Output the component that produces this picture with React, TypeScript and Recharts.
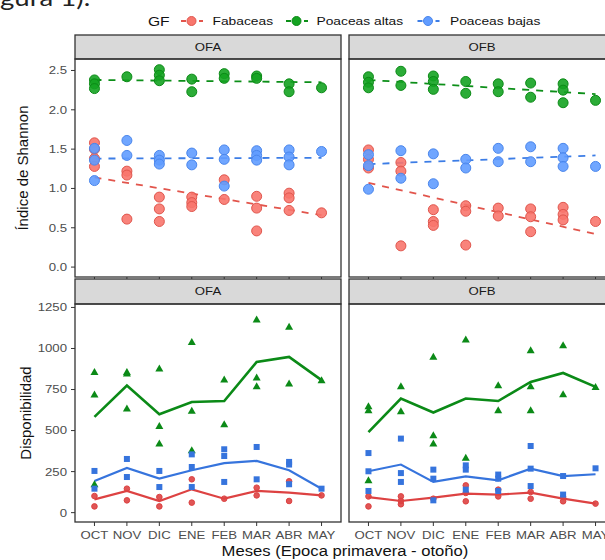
import React from 'react';
import { ComposedChart, Scatter, Line, XAxis, YAxis } from 'recharts';

const MONTHS = ['OCT', 'NOV', 'DIC', 'ENE', 'FEB', 'MAR', 'ABR', 'MAY'];
const MONTH_IDX = MONTHS.map((_, i) => i);
const GROUPS = ['Fabaceas', 'Poaceas altas', 'Poaceas bajas'];
const FACETS = ['OFA', 'OFB'];
const SH_TICKS = [0, 0.5, 1, 1.5, 2, 2.5];
const DISP_TICKS = [0, 250, 500, 750, 1000, 1250];

// Índice de Shannon: valores por mes (OCT..MAY)
const SH_OFA_FAB = [[1.58, 1.5, 1.38, 1.28], [1.22, 1.17, 0.61], [0.89, 0.74, 0.58], [0.89, 0.82, 0.77], [1.11, 0.86], [0.9, 0.75, 0.46], [0.94, 0.88, 0.72], [0.69]];
const SH_OFA_ALT = [[2.38, 2.33, 2.27], [2.42], [2.51, 2.44, 2.37], [2.39, 2.23], [2.46, 2.4], [2.43, 2.4], [2.33, 2.23], [2.28]];
const SH_OFA_BAJ = [[1.51, 1.36, 1.1], [1.61, 1.42], [1.42, 1.36, 1.31], [1.45, 1.3], [1.49, 1.37, 1.03], [1.48, 1.42, 1.36], [1.49, 1.4, 1.3], [1.47]];
const SH_OFB_FAB = [[1.49, 1.37, 1.26], [1.33, 1.22, 0.27], [0.73, 0.58, 0.53], [0.78, 0.71, 0.28], [0.75, 0.65], [0.74, 0.64, 0.45], [0.76, 0.67, 0.6], [0.58]];
const SH_OFB_ALT = [[2.42, 2.35, 2.28], [2.49, 2.31], [2.43, 2.36, 2.26], [2.36, 2.21], [2.33, 2.23], [2.34, 2.16], [2.33, 2.25, 2.09], [2.12]];
const SH_OFB_BAJ = [[1.43, 1.29, 0.99], [1.48, 1.13], [1.44, 1.06], [1.37, 1.26], [1.51, 1.34], [1.53, 1.34], [1.51, 1.39, 1.28], [1.28]];

// tendencia lineal (valor en OCT y en MAY)
const SH_OFA_FAB_TREND = [1.14, 0.66];
const SH_OFA_ALT_TREND = [2.38, 2.35];
const SH_OFA_BAJ_TREND = [1.38, 1.39];
const SH_OFB_FAB_TREND = [1.07, 0.42];
const SH_OFB_ALT_TREND = [2.38, 2.2];
const SH_OFB_BAJ_TREND = [1.31, 1.42];

// Disponibilidad: observaciones por mes
const DISP_OFA_FAB = [[101, 38], [146, 75], [95, 38], [203, 61], [85], [152, 105], [191, 71], [105]];
const DISP_OFA_ALT = [[857, 719, 173], [857, 848, 634], [878, 528, 421], [1040, 620, 380], [811, 538], [1177, 823, 770], [1132, 786], [807]];
const DISP_OFA_BAJ = [[254, 146], [327, 217], [254, 156], [355, 278, 156], [386, 345, 187], [400, 203], [309, 293, 173], [146]];
const DISP_OFB_FAB = [[99, 38], [99, 71, 51], [85], [166, 120, 69], [140, 99], [126, 85], [95, 69], [55]];
const DISP_OFB_ALT = [[648, 624, 197], [770, 618], [949, 471, 421], [1055, 335], [776, 624], [990, 770, 624], [1020, 721], [766]];
const DISP_OFB_BAJ = [[363, 252, 132], [451, 241, 187], [262, 207, 75], [288, 262, 140], [232, 207, 132], [406, 268, 162], [223, 110], [270]];

// Disponibilidad: promedio mensual
const DISP_OFA_FAB_MEAN = [81, 132, 71, 142, 85, 132, 122, 105];
const DISP_OFA_ALT_MEAN = [583, 774, 599, 674, 680, 918, 949, 807];
const DISP_OFA_BAJ_MEAN = [193, 272, 207, 258, 302, 315, 258, 146];
const DISP_OFB_FAB_MEAN = [95, 71, 91, 116, 110, 122, 85, 55];
const DISP_OFB_ALT_MEAN = [491, 695, 610, 695, 680, 796, 851, 766];
const DISP_OFB_BAJ_MEAN = [252, 293, 187, 221, 197, 268, 223, 234];

const SH_POINTS: Record<string, number[][][]> = {
  OFA: [SH_OFA_FAB, SH_OFA_ALT, SH_OFA_BAJ],
  OFB: [SH_OFB_FAB, SH_OFB_ALT, SH_OFB_BAJ],
};
const SH_TREND: Record<string, number[][]> = {
  OFA: [SH_OFA_FAB_TREND, SH_OFA_ALT_TREND, SH_OFA_BAJ_TREND],
  OFB: [SH_OFB_FAB_TREND, SH_OFB_ALT_TREND, SH_OFB_BAJ_TREND],
};
const DISP_POINTS: Record<string, number[][][]> = {
  OFA: [DISP_OFA_FAB, DISP_OFA_ALT, DISP_OFA_BAJ],
  OFB: [DISP_OFB_FAB, DISP_OFB_ALT, DISP_OFB_BAJ],
};
const DISP_MEAN: Record<string, number[][]> = {
  OFA: [DISP_OFA_FAB_MEAN, DISP_OFA_ALT_MEAN, DISP_OFA_BAJ_MEAN],
  OFB: [DISP_OFB_FAB_MEAN, DISP_OFB_ALT_MEAN, DISP_OFB_BAJ_MEAN],
};

const KEYS = ['fab', 'alt', 'baj'];
const FONT = '"Liberation Sans", Arial, sans-serif';
const STRETCH = 1.2; // la figura original está estirada en horizontal
const TOP_FILL = ['#F8766D', '#14A321', '#619CFF'];
const TOP_EDGE = ['#E0564D', '#0B8A16', '#4A86EC'];
const TOP_LINE = ['#E2554C', '#0C8F18', '#3C7DE6'];
const BOT_COL = ['#DD4242', '#0B8A17', '#3674DD'];

const SH_DOMAIN = [-0.126, 2.646];
const DISP_DOMAIN = [-57, 1271];
const PANEL_X = [75, 349];
const PANEL_W = 266;
const Y_AXIS_W = 75;
const PAD_TOP = 8; // room above each panel for the top tick label
const ROWS = [
  { strip: 35, top: 59, h: 218 },
  { strip: 279, top: 304, h: 218 },
];

const toPoints = (vals: number[][]) => vals.flatMap((arr, i) => arr.map((v) => ({ x: i, y: v })));
const toRows = (cols: number[][], xs: number[]) =>
  xs.map((x, j) => ({ x, fab: cols[0][j], alt: cols[1][j], baj: cols[2][j] }));

const YTick = (p: any) => (
  <text
    transform={`translate(${p.x},${p.y}) scale(${STRETCH},1)`}
    textAnchor="end"
    dy="0.355em"
    fontSize={11}
    fontFamily={FONT}
    fill="#4D4D4D"
  >
    {p.digits ? Number(p.payload.value).toFixed(p.digits) : p.payload.value}
  </text>
);

const XTick = (p: any) => (
  <text
    transform={`translate(${p.x},${p.y}) scale(${STRETCH},1)`}
    textAnchor="middle"
    dy="0.71em"
    fontSize={11}
    fontFamily={FONT}
    fill="#4D4D4D"
  >
    {MONTHS[p.payload.value]}
  </text>
);

const circleShape = (r: number, fill: string, edge: string) => (p: any) =>
  <circle cx={p.cx} cy={p.cy} r={r} fill={fill} fillOpacity={0.9} stroke={edge} strokeWidth={1} />;
const triShape = (s: number, fill: string) => (p: any) =>
  <path d={`M${p.cx},${p.cy - s}L${p.cx + s},${p.cy + s * 0.75}L${p.cx - s},${p.cy + s * 0.75}Z`} fill={fill} />;
const squareShape = (s: number, fill: string) => (p: any) =>
  <rect x={p.cx - s} y={p.cy - s} width={s * 2} height={s * 2} fill={fill} />;

function ShannonChart({ facet, first }: { facet: string; first: boolean }) {
  const data = toRows(SH_TREND[facet], [0, 7]);
  return (
    <ComposedChart width={first ? PANEL_W + Y_AXIS_W : PANEL_W} height={ROWS[0].h + 5 + PAD_TOP} data={data}
      margin={{ top: PAD_TOP, right: 0, bottom: 0, left: 0 }}>
      <XAxis type="number" dataKey="x" domain={[-0.6, 7.6]} ticks={MONTH_IDX} interval={0} allowDataOverflow
        axisLine={false} tickSize={4} tickLine={{ stroke: '#333' }} height={5} tick={() => <g />} />
      <YAxis type="number" domain={SH_DOMAIN} ticks={SH_TICKS} interval={0} allowDataOverflow hide={!first}
        width={Y_AXIS_W} axisLine={false} tickSize={4} tickMargin={4} tickLine={{ stroke: '#333' }}
        tick={(p: any) => <YTick {...p} digits={1} />} />
      {KEYS.map((k, g) => (
        <Line key={k} dataKey={k} type="linear" stroke={TOP_LINE[g]} strokeWidth={1.8} strokeDasharray="7 7"
          dot={false} activeDot={false} isAnimationActive={false} />
      ))}
      {SH_POINTS[facet].map((vals, g) => (
        <Scatter key={g} data={toPoints(vals)} dataKey="y" shape={circleShape(5, TOP_FILL[g], TOP_EDGE[g])}
          isAnimationActive={false} />
      ))}
    </ComposedChart>
  );
}

function DispChart({ facet, first }: { facet: string; first: boolean }) {
  const data = toRows(DISP_MEAN[facet], MONTH_IDX);
  const shapes = [circleShape(2.8, BOT_COL[0], BOT_COL[0]), triShape(4, BOT_COL[1]), squareShape(3, BOT_COL[2])];
  return (
    <ComposedChart width={first ? PANEL_W + Y_AXIS_W : PANEL_W} height={ROWS[1].h + 24 + PAD_TOP} data={data}
      margin={{ top: PAD_TOP, right: 0, bottom: 0, left: 0 }}>
      <XAxis type="number" dataKey="x" domain={[-0.6, 7.6]} ticks={MONTH_IDX} interval={0} allowDataOverflow
        axisLine={false} tickSize={4} tickMargin={5} tickLine={{ stroke: '#333' }} height={24}
        tick={(p: any) => <XTick {...p} />} />
      <YAxis type="number" domain={DISP_DOMAIN} ticks={DISP_TICKS} interval={0} allowDataOverflow hide={!first}
        width={Y_AXIS_W} axisLine={false} tickSize={4} tickMargin={4} tickLine={{ stroke: '#333' }}
        tick={(p: any) => <YTick {...p} />} />
      {KEYS.map((k, g) => (
        <Line key={k} dataKey={k} type="linear" stroke={BOT_COL[g]} strokeWidth={g === 1 ? 2.6 : 2.2}
          dot={false} activeDot={false} isAnimationActive={false} />
      ))}
      {DISP_POINTS[facet].map((vals, g) => (
        <Scatter key={g} data={toPoints(vals)} dataKey="y" shape={shapes[g]} isAnimationActive={false} />
      ))}
    </ComposedChart>
  );
}

function Overlay() {
  const legendMarkerX = [191.5, 296.5, 428];
  const legendTextX = [212.5, 316.5, 450];
  return (
    <svg width={620} height={560} style={{ position: 'absolute', left: 0, top: 0, pointerEvents: 'none' }}>
      <text transform={`translate(0,6) scale(1.15,1)`} fontSize={24} fontFamily='Lato, "Open Sans", sans-serif' fill="#222">
        gura 1).
      </text>
      <text transform={`translate(148,21) scale(${STRETCH},1)`} dy="0.35em" fontSize={13} fontFamily={FONT} fill="#111">
        GF
      </text>
      {GROUPS.map((g, i) => (
        <g key={g}>
          <line x1={legendMarkerX[i] - 11.5} x2={legendMarkerX[i] + 11.5} y1={21} y2={21} stroke={TOP_LINE[i]}
            strokeWidth={1.8} strokeDasharray="5 4" strokeDashoffset={-1} />
          <circle cx={legendMarkerX[i]} cy={21} r={4.5} fill={TOP_FILL[i]} stroke={TOP_EDGE[i]} />
          <text transform={`translate(${legendTextX[i]},21) scale(${STRETCH},1)`} dy="0.35em" fontSize={11.5}
            fontFamily={FONT} fill="#111">
            {g}
          </text>
        </g>
      ))}
      {ROWS.map((r, ri) =>
        FACETS.map((f, fi) => (
          <g key={`${ri}-${f}`}>
            <rect x={PANEL_X[fi]} y={r.strip} width={PANEL_W} height={r.top - r.strip} fill="#D9D9D9"
              stroke="#333" strokeWidth={1.3} />
            <text transform={`translate(${PANEL_X[fi] + PANEL_W / 2},${(r.strip + r.top) / 2}) scale(${STRETCH},1)`}
              textAnchor="middle" dy="0.35em" fontSize={11} fontFamily={FONT} fill="#1A1A1A">
              {f}
            </text>
            <rect x={PANEL_X[fi]} y={r.top} width={PANEL_W} height={r.h} fill="none" stroke="#333" strokeWidth={1.3} />
          </g>
        )),
      )}
      <text transform="translate(23,168) rotate(-90)" textAnchor="middle" dy="0.35em" fontSize={15}
        fontFamily={FONT} fill="#111">
        Índice de Shannon
      </text>
      <text transform="translate(26,413) rotate(-90)" textAnchor="middle" dy="0.35em" fontSize={15}
        fontFamily={FONT} fill="#111">
        Disponibilidad
      </text>
      <text transform="translate(345,556) scale(1.11,1)" textAnchor="middle" fontSize={15} fontFamily={FONT} fill="#111">
        Meses (Epoca primavera - otoño)
      </text>
    </svg>
  );
}

export default function App() {
  return (
    <div style={{ position: 'fixed', left: 0, top: 0, width: 605, height: 560, overflow: 'hidden', background: '#fff' }}>
      <div style={{ position: 'absolute', left: 0, top: ROWS[0].top - PAD_TOP }}>
        <ShannonChart facet="OFA" first />
      </div>
      <div style={{ position: 'absolute', left: PANEL_X[1], top: ROWS[0].top - PAD_TOP }}>
        <ShannonChart facet="OFB" first={false} />
      </div>
      <div style={{ position: 'absolute', left: 0, top: ROWS[1].top - PAD_TOP }}>
        <DispChart facet="OFA" first />
      </div>
      <div style={{ position: 'absolute', left: PANEL_X[1], top: ROWS[1].top - PAD_TOP }}>
        <DispChart facet="OFB" first={false} />
      </div>
      <Overlay />
    </div>
  );
}
